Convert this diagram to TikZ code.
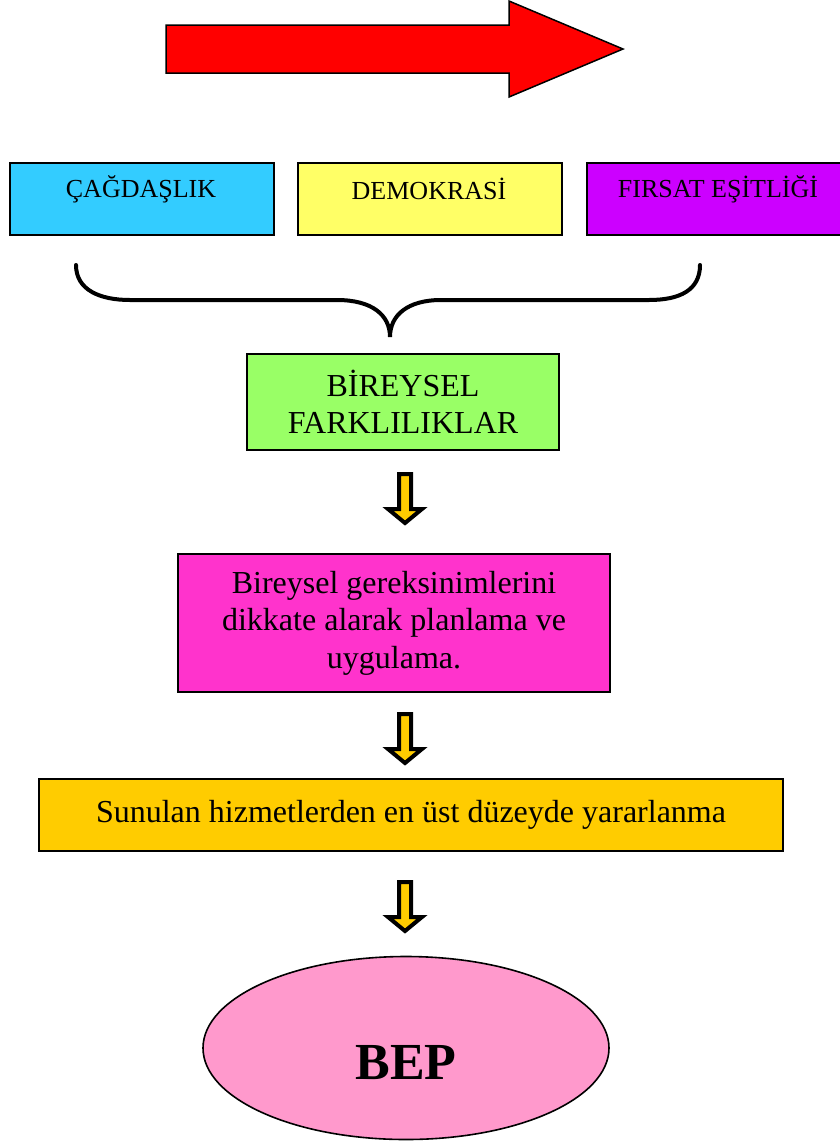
\documentclass[tikz,border=0pt]{standalone}
\usepackage{fontspec}
\setmainfont{Liberation Serif}
\usetikzlibrary{shapes.geometric}
\definecolor{cyanbox}{HTML}{33CCFF}
\definecolor{yellowbox}{HTML}{FFFF66}
\definecolor{purplebox}{HTML}{CC00FF}
\definecolor{greenbox}{HTML}{99FF66}
\definecolor{magentabox}{HTML}{FF33CC}
\definecolor{orangebox}{HTML}{FFCC00}
\definecolor{pinkbox}{HTML}{FF99CC}
\begin{document}
\begin{tikzpicture}[x=1pt,y=-1pt,
  topbox/.style={draw=black, line width=2pt, inner sep=0pt, anchor=north west, minimum width=264pt, minimum height=72pt},
  toptext/.style={inner sep=0pt, font=\fontsize{26}{30}\selectfont},
  midbox/.style={draw=black, line width=1.6pt, inner sep=0pt, align=center, font=\fontsize{32}{37.5}\selectfont},
  blockarrow/.style={draw=black, line width=4pt, fill=orangebox, line join=miter},
  bigarrow/.style={draw=black, line width=1.5pt, fill=red, line join=miter},
  bracestyle/.style={draw=black, line width=4pt, line cap=round}]
\clip (0,0) rectangle (840,1144);
\fill[white] (0,0) rectangle (840,1144);

% big red arrow
\draw[bigarrow] (166,25) -- (509,25) -- (509,1) -- (623,49) -- (509,97) -- (509,73) -- (166,73) -- cycle;

% top boxes
\node[topbox, fill=cyanbox] (cag) at (9,162) {};
\node[toptext] (cagt) at (141,189) {ÇAĞDAŞLIK};
\node[topbox, fill=yellowbox] (dem) at (297,162) {};
\node[toptext] (demt) at (429,189) {DEMOKRASİ};
\node[topbox, fill=purplebox, minimum width=270pt] (fir) at (586,162) {};
\node[toptext] (firt) at (718,189) {FIRSAT EŞİTLİĞİ};

% brace
\draw[bracestyle] (76,265) .. controls (76,290) and (100,300) .. (130,300) -- (337,300)
  .. controls (372,300) and (390,315) .. (390,337)
  .. controls (390,315) and (408,300) .. (441,300) -- (649,300)
  .. controls (680,300) and (700,290) .. (700,265);

% middle boxes
\node[midbox, fill=greenbox, minimum width=312pt, minimum height=96pt] (bir) at (403,402) {BİREYSEL\\FARKLILIKLAR};
\node[midbox, fill=magentabox, minimum width=432pt, minimum height=138pt] (plan) at (394,623) {Bireysel gereksinimlerini\\dikkate alarak planlama ve\\uygulama.};
\node[midbox, fill=orangebox, minimum width=744pt, minimum height=72pt] (sun) at (411,815) {Sunulan hizmetlerden en üst düzeyde yararlanma};
\node[draw=black, line width=1.6pt, fill=pinkbox, ellipse, minimum width=406pt, minimum height=183pt, inner sep=0pt] (bep) at (406,1048) {};
\node[inner sep=0pt, font=\fontsize{52}{60}\selectfont\bfseries] (bept) at (406,1063) {BEP};

% block arrows
\foreach \yy in {472,712,880}{
  \begin{scope}[shift={(405,\yy)}]
    \draw[blockarrow] (-6,2) -- (6,2) -- (6,37) -- (17,37) -- (0,51) -- (-17,37) -- (-6,37) -- cycle;
  \end{scope}
}
\end{tikzpicture}
\end{document}
